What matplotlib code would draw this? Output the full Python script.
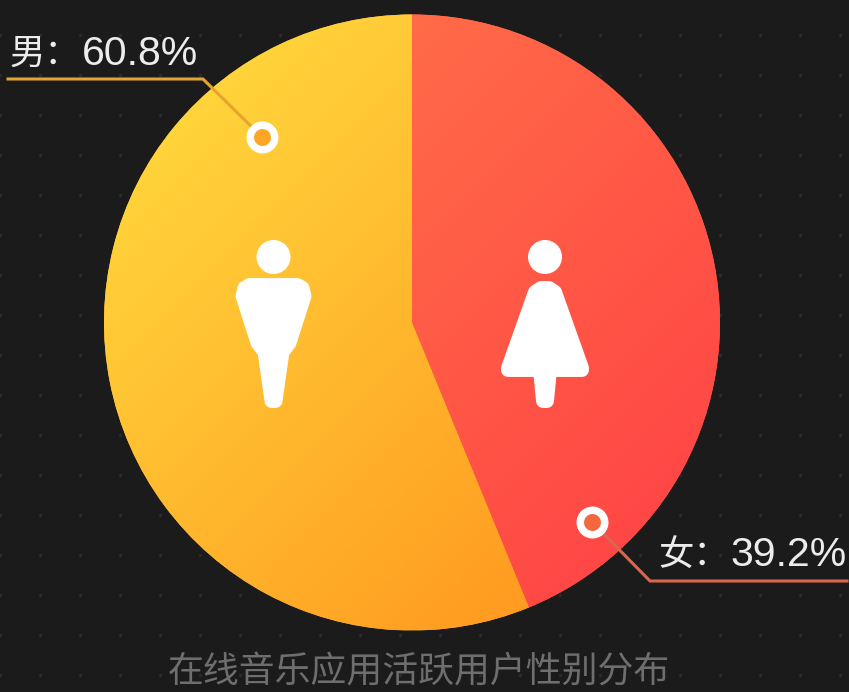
import numpy as np
import matplotlib
matplotlib.use('Agg')
import matplotlib.pyplot as plt
from matplotlib.colors import LinearSegmentedColormap
from matplotlib.patches import Circle, Polygon

plt.rcParams['font.family'] = ['Noto Sans CJK SC', 'DejaVu Sans']

# chart data
categories = ['女', '男']
percent_labels = [39.2, 60.8]
# the slices in the source are not drawn to the labelled percentages
drawn_shares = [43.8, 56.2]
title = '在线音乐应用活跃用户性别分布'

BG = '#1b1b1c'
CENTER = (412, 322.5)
RADIUS = 308


def gradient_fill(ax, wedge, c_start, c_end):
    """Paint a diagonal gradient over the pie and clip it to one wedge"""
    n = 300
    xx, yy = np.meshgrid(np.linspace(0, 1, n), np.linspace(0, 1, n))
    grad = (xx + yy) / 2
    cmap = LinearSegmentedColormap.from_list('g', [c_start, c_end])
    extent = (CENTER[0] - RADIUS, CENTER[0] + RADIUS,
              CENTER[1] + RADIUS, CENTER[1] - RADIUS)
    im = ax.imshow(grad, cmap=cmap, extent=extent, aspect='auto', zorder=2,
                   interpolation='bilinear')
    im.set_clip_path(wedge)


def mirrored(xc, half):
    """Build a symmetric outline from the right hand half"""
    right = [(xc + dx, y) for dx, y in half]
    left = [(xc - dx, y) for dx, y in reversed(half)]
    return right + left


def icon(ax, head, outline, lw=10):
    # the thick round-joined edge gives the soft corners of the glyph
    ax.add_patch(Circle(head, 17, fc='white', ec='none', zorder=4))
    ax.add_patch(Polygon(outline, closed=True, fc='white', ec='white', lw=lw,
                         joinstyle='round', zorder=4))


def leader(ax, xs, ys, color, face):
    ax.plot(xs, ys, color=color, lw=2.2, solid_joinstyle='miter', zorder=3)
    ax.plot(xs[-1], ys[-1], 'o', ms=17.6, mfc=face, mec='white', mew=5.4, zorder=5)


def label(ax, cat, pct, x_cat, x_pct, y):
    ax.text(x_cat, y, f'{cat}：', color='#ececec', fontsize=25.5, va='center', ha='left', zorder=6)
    ax.text(x_pct, y, f'{pct}%', color='#ececec', fontsize=29.5, va='center', ha='left',
            family='Liberation Sans', zorder=6)


fig = plt.figure(figsize=(8.49, 6.92), dpi=100, facecolor=BG)
ax = fig.add_axes([0, 0, 1, 1])
ax.set_facecolor(BG)

# faint dot grid behind the pie
gx, gy = np.meshgrid(np.arange(0, 850, 40), np.arange(-5, 692, 40))
ax.scatter(gx.ravel(), gy.ravel(), s=6, color='#2b2b2e', linewidths=0, zorder=1)

wedges, _ = ax.pie(drawn_shares, startangle=-90, counterclock=True, center=CENTER,
                   radius=RADIUS, colors=['#ff5a45', '#ffb52a'], frame=True,
                   wedgeprops={'linewidth': 0, 'zorder': 1.5})
gradient_fill(ax, wedges[0], '#ff7a48', '#ff3f45')
gradient_fill(ax, wedges[1], '#ffe040', '#ff8c1a')

ax.set_xlim(0, 849)
ax.set_ylim(692, 0)
ax.axis('off')

# figures
icon(ax, (273.5, 257), mirrored(273.5, [(24, 285), (29, 288), (31, 296), (16, 343), (9, 352), (2, 401)]))
icon(ax, (545, 257), mirrored(545, [(4, 288), (10, 292), (37, 368), (37, 370), (5, 370), (2, 401)]))

# leader lines and labels
leader(ax, [8, 203, 262], [79, 79, 137], '#e5a52c', '#fba626')
leader(ax, [847, 650, 592], [581, 581, 522], '#d8684c', '#f4683f')
label(ax, categories[1], percent_labels[1], 10, 82, 54)
label(ax, categories[0], percent_labels[0], 658, 730, 555)

ax.text(419, 673, title, color='#6e6e6e', fontsize=25.8, ha='center', va='center', zorder=6)

fig.savefig('out.png', dpi=100, facecolor=BG)
